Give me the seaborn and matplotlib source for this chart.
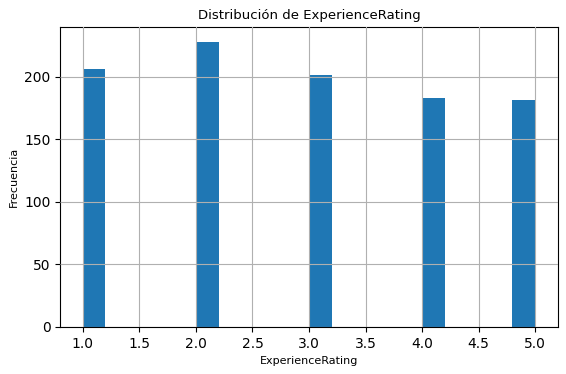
import matplotlib
matplotlib.use("Agg")
import matplotlib.pyplot as plt
import seaborn as sns

ratings = [1, 2, 3, 4, 5]
counts = [206, 228, 201, 183, 181]

plt.rcParams['font.family'] = ['DejaVu Sans']
fig, ax = plt.subplots(figsize=(5.66, 3.74), dpi=100)
sns.histplot(x=ratings, weights=counts, bins=20, binrange=(1, 5), ax=ax,
             color='#1f77b4', alpha=1.0, edgecolor='none', linewidth=0)
ax.grid(True, color='#b0b0b0', linewidth=0.8)
ax.set_axisbelow(False)
ax.set_title('Distribución de ExperienceRating', fontsize=9.5)
ax.set_xlabel('ExperienceRating', fontsize=8)
ax.set_ylabel('Frecuencia', fontsize=8)
ax.set_xticks([1.0, 1.5, 2.0, 2.5, 3.0, 3.5, 4.0, 4.5, 5.0])
ax.set_xlim(0.8, 5.2)
ax.set_ylim(0, 228 * 1.05)
fig.subplots_adjust(left=0.1065, right=0.9853, top=0.927, bottom=0.1257)
fig.savefig('out.png', dpi=100)
